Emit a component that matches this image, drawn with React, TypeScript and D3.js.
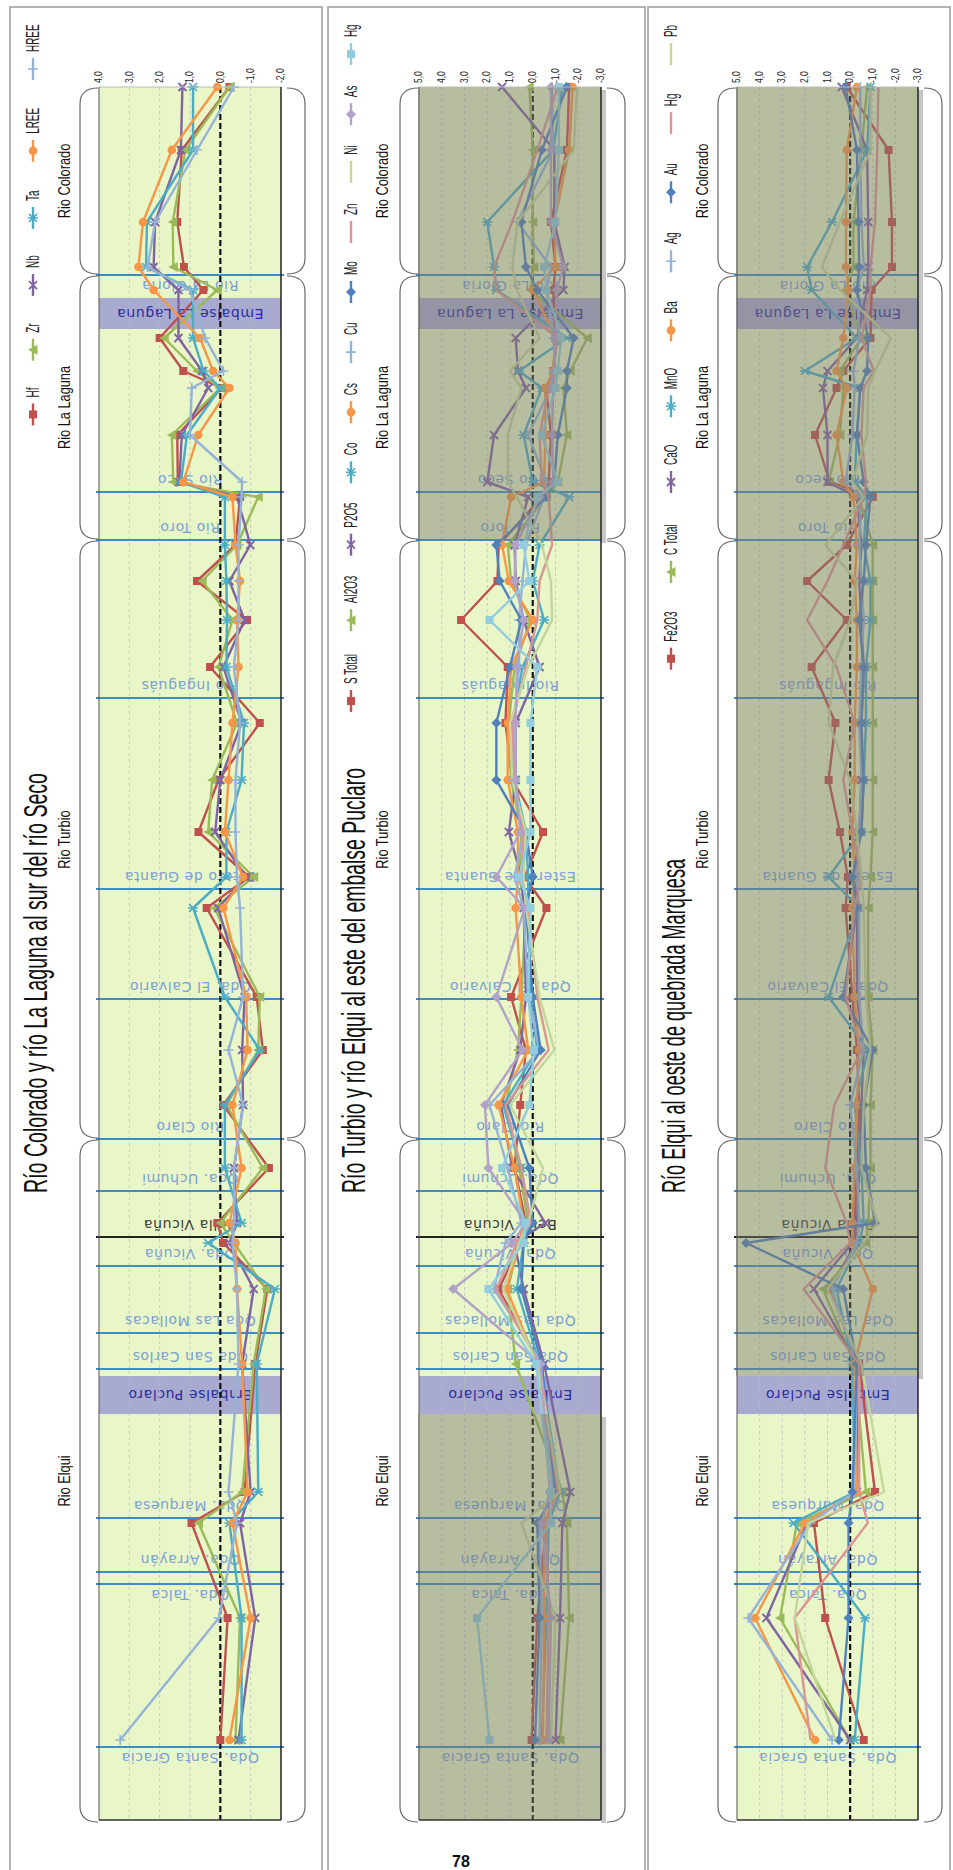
import React from 'react';
import * as d3 from 'd3';

// ---------------- data ----------------
// sampling stations along the river profile (arbitrary distance units, upstream -> downstream)
const stationKm = [0, 6.3, 13.5, 18.0, 20.3, 25.1, 28.4, 30.1, 34.8, 39.5, 41.0, 45.8, 49.4, 53.3, 58.0, 63.6, 69.3, 74.5, 79.0, 82.1, 91.0, 96.3, 101.8, 108.1, 113.6, 115.6, 120.2, 127.7, 140.5, 143.6, 153.1, 165.3];
const axisKm = [0, 173.3];

const siteNames = ['Rio La Gloria', 'Rio Seco', 'Rio Toro', 'Rio Ingaguás', 'Estero de Guanta', 'Qda. El Calvario', 'Rio Claro', 'Qda. Uchumi', 'Bella Vicuña', 'Qda. Vicuña', 'Qda Las Mollacas', 'Qda San Carlos', 'Qda. Marquesa', 'Qda. Arrayán', 'Qda. Talca', 'Qda. Santa Gracia'];
const siteKm = [18.8, 40.5, 45.3, 61.1, 80.2, 91.2, 105.2, 110.4, 115.0, 117.9, 124.6, 128.2, 143.1, 148.5, 149.7, 166.0];
const siteLabelBelow = [true, false, false, false, false, false, false, false, false, false, false, false, false, false, true, true];
const confluenceSite = 'Bella Vicuña';

const reservoirNames = ['Embalse La Laguna', 'Embalse Puclaro'];
const reservoirFromKm = [21.1, 128.9];
const reservoirToKm = [24.2, 132.7];

const riverNames = ['Rio Colorado', 'Rio La Laguna', 'Rio Turbio', 'Rio Elqui'];
const riverFromKm = [0, 18.8, 45.3, 105.2];
const riverToKm = [18.8, 45.3, 105.2, 173.3];

const titles = [
  'Río Colorado y río La Laguna al sur del río Seco',
  'Río Turbio y río Elqui al este del embalse Puclaro',
  'Río Elqui al oeste de quebrada Marquesa',
];

const ticksPanel1 = [4, 3, 2, 1, 0, -1, -2];
const ticksPanel23 = [5, 4, 3, 2, 1, 0, -1, -2, -3];

const palette = ['#C0504D', '#9BBB59', '#8064A2', '#4BACC6', '#F79646', '#95B3D7', '#4F81BD', '#D99694', '#C3D69B', '#B3A2C7', '#93CDDD'];
type Kind = 'square' | 'triangle' | 'x' | 'star' | 'circle' | 'plus' | 'diamond' | 'none';
const markerKinds: Kind[] = ['square', 'triangle', 'x', 'star', 'circle', 'plus', 'diamond', 'none', 'none', 'diamond', 'square'];

// Panel 1
const panel1Names = ['Hf', 'Zr', 'Nb', 'Ta', 'LREE', 'HREE'];
const hfValues = [-0.3, 1.27, 1.42, 1.2, 0.56, 2.0, 1.22, -0.05, 1.42, 1.4, -0.65, -0.5, 0.77, -0.88, 0.34, -1.3, 0.06, 0.72, -0.95, 0.45, -1.2, -1.4, -0.1, -1.6, 0.1, -0.1, -1.55, -1.15, -0.8, 0.95, -0.24, 0.0];
const zrValues = [-0.3, 1.15, 1.57, 1.55, 0.1, 1.85, 0.77, 0.0, 1.6, 1.55, -1.25, -0.55, 0.6, -0.4, 0.06, -0.55, 0.27, 0.4, -1.1, 0.2, -1.3, -1.25, -0.2, -1.4, 0.0, -0.45, -1.5, -1.1, -0.72, 0.72, -0.65, -0.5];
const nbValues = [1.25, 1.3, 2.15, 2.2, 1.38, 1.38, 0.6, 0.4, 1.27, 1.35, -0.55, -0.99, -0.3, -0.8, -0.1, -0.7, 0.0, 0.17, -0.85, 0.07, -0.8, -0.72, -0.75, -0.45, -0.55, -0.3, -1.1, -0.72, -1.0, -0.65, -1.15, -0.6];
const taValues = [0.9, 0.9, 2.42, 2.45, 0.9, 0.9, 0.55, 0.0, 1.1, 1.3, -0.15, -0.15, -0.2, -0.22, -0.2, -0.78, -0.7, -0.2, -0.2, 0.9, -0.15, -1.3, -0.15, -0.15, -0.7, 0.4, -1.8, -1.2, -1.25, -0.3, -0.7, -0.7];
const lreeValues = [0.1, 1.6, 2.55, 2.7, 2.2, 0.67, 0.24, -0.3, 0.73, 1.22, -0.4, -0.5, -0.65, -0.55, -0.6, -0.4, -0.27, -0.15, -0.75, -0.1, -0.85, -0.9, -0.4, -0.7, -0.3, -0.5, -0.55, -0.72, -0.9, -0.4, -1.0, -0.3];
const hreeValues = [-0.45, 0.77, 2.15, 2.4, 1.0, 0.5, -0.1, 0.94, 1.0, -0.72, -0.7, -0.6, -0.6, -0.6, -0.45, -0.65, -0.5, -0.5, -0.55, -0.65, -0.75, -0.27, -0.75, -0.45, -0.45, -0.4, -0.55, -0.6, -0.27, -0.55, 0.05, 3.3];

// Panel 2
const panel2Names = ['S Total', 'Al2O3', 'P2O5', 'Co', 'Cs', 'Cu', 'Mo', 'Zn', 'Ni', 'As', 'Hg'];
const sTotalValues = [-1.6, -1.5, -0.8, -1.0, -0.9, -1.0, -0.9, -0.6, -0.8, -0.7, -0.4, 1.5, 1.55, 3.15, 1.1, 1.2, 0.9, -0.45, 0.35, -0.6, 0.95, 0.3, 0.55, 0.8, 0.3, 0.5, 1.5, -0.3, -1.0, -0.6, -0.2, 0.05];
const al2o3Values = [0.15, 0.0, 0.0, -0.05, 0.1, -2.4, -1.65, -1.35, -1.5, -1.1, -0.6, 1.1, 0.95, 0.1, 0.8, 1.05, 0.95, 0.5, 0.6, 0.3, 0.5, 0.65, 1.2, 0.6, 0.2, 0.6, 1.1, 0.75, -1.3, -1.5, -1.6, -1.2];
const p2o5Values = [1.35, -0.95, -0.95, -1.4, -1.35, 0.75, 0.65, 0.3, 1.7, 2.0, 0.2, 0.8, 0.75, 0.4, -0.3, 0.75, 0.75, 1.05, 0.5, 0.4, 0.3, 0.55, 1.4, 0.9, -0.55, 0.8, 0.4, -0.5, -1.65, -1.3, -1.2, -1.0];
const coValues = [-1.3, -0.9, 2.0, 1.7, 1.6, -1.5, 0.6, -0.4, 0.4, 0.0, -1.6, -0.3, 0.0, -0.5, 0.45, 0.9, 0.8, 0.3, 0.2, 0.2, 0.1, -0.2, 1.3, 0.5, 0.1, 0.4, 0.7, -0.3, -1.2, -0.7, -0.6, -0.4];
const csValues = [-1.75, -1.6, -0.95, -1.0, 0.0, -1.0, -0.9, -0.55, -0.55, -0.5, 0.95, 1.35, 1.05, 0.0, 0.95, 1.1, 1.1, 0.65, 0.65, 0.75, 0.5, 0.2, 1.5, 0.8, 0.4, 0.6, 1.15, -0.2, -1.05, -0.5, -0.5, -0.45];
const cuValues = [-0.85, -0.9, 0.67, -0.8, -0.6, -0.9, -1.0, -0.8, 0.2, -0.6, -0.5, 0.3, 0.45, 0.6, 0.6, 0.8, 0.9, 0.4, 0.8, 0.4, 0.2, -0.3, 1.9, 1.1, 0.5, 1.2, 1.7, -0.4, -0.9, -0.3, -0.4, -0.3];
const moValues = [-1.5, -0.4, 0.5, 0.3, -0.2, -1.8, -1.5, -1.5, -1.1, -0.95, -0.6, 1.6, 1.45, 0.5, 1.0, 1.6, 1.6, 0.3, 0.0, 0.3, 0.0, -0.35, 1.1, 0.15, 0.0, 0.4, 0.5, -0.4, -1.0, -0.2, -0.3, -0.1];
const znValues = [-1.1, -0.2, 0.9, 1.7, 1.6, -1.1, -0.9, -0.7, -0.3, -0.4, -0.7, -0.85, -0.3, -0.2, 0.3, 0.9, 0.8, 0.4, 0.5, 0.2, -0.2, -0.7, 1.2, 0.5, 0.1, 0.7, 1.6, -0.3, -1.1, -0.6, -0.7, -0.6];
const niValues = [-1.95, -1.8, 0.67, 0.9, 0.7, -0.3, 1.0, 0.5, 1.1, 1.1, 0.7, -0.4, -0.8, -0.85, 0.2, 1.0, 0.9, 0.3, 0.4, 0.3, -0.3, -0.95, 1.0, -0.45, 0.2, 0.6, 1.3, -0.2, -1.2, 0.5, -1.0, -0.8];
const asValues = [-0.8, -0.8, -0.8, -1.35, -1.05, -1.0, -0.95, -0.9, -0.85, -0.9, -0.3, 0.75, 0.8, 0.4, 0.7, 0.75, 0.75, 0.55, 1.6, 0.35, 1.6, 0.45, 2.1, 1.95, 0.3, 0.9, 3.5, -0.35, -0.75, -0.4, -0.8, -0.7];
const hgPanel2Values = [-1.15, -1.15, -1.0, -0.5, -0.6, -1.25, -1.1, -1.0, -0.4, -1.1, -0.2, 0.4, 0.15, 1.9, -0.2, 0.1, 0.1, 0.1, 0.6, 0.1, 0.2, -0.05, 0.15, 1.35, 0.3, 0.4, 1.95, -0.15, -0.8, -0.8, 2.45, 1.9];

// Panel 3
const panel3Names = ['Fe2O3', 'C Total', 'CaO', 'MnO', 'Ba', 'Ag', 'Au', 'Hg', 'Pb'];
const fe2o3Values = [0.15, -1.7, -1.85, -1.85, -0.95, -0.9, 0.3, 0.6, 1.55, 0.9, -1.0, 0.15, 1.9, 0.15, 1.7, 0.65, 0.95, 0.45, 0.1, 0.2, -0.1, -0.3, -0.4, -0.3, -0.2, -0.3, 0.95, -0.4, -1.1, 1.6, 1.1, -0.6];
const cTotalValues = [-0.75, -0.5, -0.15, -0.15, 0.22, -0.5, 0.45, 0.3, 0.45, 0.95, -0.4, -1.0, -1.0, -1.0, -1.0, -1.0, -1.0, -1.0, -0.9, -0.8, -0.8, -1.0, -0.9, -0.9, -0.8, -0.7, 1.2, -0.2, -0.7, 2.35, 3.1, 0.0];
const caoValues = [0.37, -0.75, -0.8, -0.8, -0.75, -0.3, 1.0, 1.2, 1.0, 1.0, -0.3, -0.5, -0.4, -0.5, -0.6, -0.5, -0.5, -0.4, -0.2, -0.3, -0.3, -0.6, -0.5, -0.4, -0.3, -0.1, 1.6, -0.3, -0.3, 1.9, 3.7, 0.0];
const mnoValues = [-0.9, -0.75, 0.8, 1.9, 1.7, -0.3, 2.0, -0.45, -0.3, -0.2, -0.75, -0.6, -0.9, -0.9, -0.7, -0.7, -0.6, -0.5, 0.95, -0.4, 0.95, -0.8, -0.2, -0.5, -0.6, -0.4, 0.6, -0.1, -0.2, 2.5, -0.66, -0.2];
const baValues = [-0.3, 0.15, 0.18, 0.18, 0.07, 0.3, 0.6, 0.15, 0.6, 0.3, -0.15, -0.3, -0.2, -0.3, -0.3, -0.2, -0.2, -0.1, -0.2, -0.1, -0.2, -0.4, -0.3, -0.2, -0.1, -0.1, -1.0, -0.2, -0.3, 2.0, 4.2, 1.55];
const agValues = [-0.45, -0.45, -0.5, -0.6, -0.3, -0.4, -0.15, -0.2, -0.1, 0.2, -0.5, -0.4, -0.5, -0.6, -0.5, -0.4, -0.5, -0.4, -0.3, -0.4, -0.4, -0.6, 0.0, -0.3, -0.4, -0.3, 0.8, -0.3, -0.2, 1.75, 4.5, 0.8];
const auValues = [0.2, -0.3, -0.37, -0.4, -0.3, -0.8, -0.75, -0.45, -0.3, -0.6, -0.9, -0.7, -0.6, -0.4, -0.6, -0.5, -0.6, -0.5, -0.1, -0.3, 0.3, -1.0, -0.6, -0.7, -1.1, 4.6, 0.3, -0.3, -0.1, 0.07, 0.07, 0.5];
const hgPanel3Values = [-1.25, -1.2, -1.1, -0.9, -0.9, -0.5, -1.05, -0.6, -0.5, -0.7, -0.6, 0.3, 1.0, 1.9, 0.6, -0.2, 0.3, -0.1, -0.5, -0.2, 0.2, -0.5, 0.7, 1.1, 0.15, 0.0, 2.05, -0.4, -0.4, -0.78, 2.45, 1.75];
const pbValues = [-0.9, -0.9, 0.45, 1.25, 0.45, -1.8, -1.1, -0.8, -0.75, -0.1, -0.6, 1.1, -0.3, 0.0, 0.75, 0.95, 0.0, -0.3, -0.5, -0.6, -0.7, -0.9, -0.6, -0.5, -1.2, -0.6, 1.0, -0.5, -1.5, 1.85, 2.45, 0.65];

// ---------------- layout ----------------
const W = 953;
const H = 1870;
const yScale = d3.scaleLinear().domain(axisKm).range([87, 1820]);

type Series = { name: string; values: number[]; color: string; kind: Kind };
type PanelCfg = {
  left: number; right: number; plotL: number; plotR: number;
  domain: [number, number]; ticks: number[]; title: string; titleLen: number;
  series: Series[]; gray: [number, number][]; legendGap: number;
};

const mkSeries = (names: string[], vals: number[][]): Series[] =>
  names.map((n, i) => ({ name: n, values: vals[i], color: palette[i], kind: markerKinds[i] }));

const panels: PanelCfg[] = [
  {
    left: 10, right: 322, plotL: 99, plotR: 281, domain: [4, -2], ticks: ticksPanel1,
    title: titles[0], titleLen: 420,
    series: mkSeries(panel1Names, [hfValues, zrValues, nbValues, taValues, lreeValues, hreeValues]),
    gray: [], legendGap: 27,
  },
  {
    left: 328, right: 645, plotL: 419, plotR: 601, domain: [5, -3], ticks: ticksPanel23,
    title: titles[1], titleLen: 425,
    series: mkSeries(panel2Names, [sTotalValues, al2o3Values, p2o5Values, coValues, csValues, cuValues, moValues, znValues, niValues, asValues, hgPanel2Values]),
    gray: [[axisKm[0], riverToKm[1]], [reservoirToKm[1], axisKm[1]]], legendGap: 20,
  },
  {
    left: 648, right: 950, plotL: 737, plotR: 918, domain: [5, -3], ticks: ticksPanel23,
    title: titles[2], titleLen: 334,
    series: mkSeries(panel3Names, [fe2o3Values, cTotalValues, caoValues, mnoValues, baValues, agValues, auValues, hgPanel3Values, pbValues]),
    gray: [[axisKm[0], reservoirFromKm[1]]], legendGap: 29,
  },
];

const SANS = "'Liberation Sans', Arial, sans-serif";
const LABEL_FONT = "'DejaVu Sans', Verdana, sans-serif";

const charW = (c: string) => {
  if (/[ilIjtfr.,]/.test(c)) return 0.3;
  if (/[A-Z]/.test(c)) return 0.68;
  if (/[0-9]/.test(c)) return 0.556;
  if (c === ' ') return 0.28;
  return 0.54;
};
const textWidth = (s: string, size: number, k: number) =>
  Array.from(s).reduce((a, c) => a + charW(c), 0) * size * k;

function Marker({ kind, cx, cy, color }: { kind: Kind; cx: number; cy: number; color: string }) {
  const s = 4;
  switch (kind) {
    case 'square':
      return <rect x={cx - 4} y={cy - 4} width={8} height={8} fill={color} />;
    case 'triangle':
      return <path d={`M${cx - 5},${cy}L${cx + 4.5},${cy - 5}L${cx + 4.5},${cy + 5}Z`} fill={color} />;
    case 'x':
      return <path d={`M${cx - s},${cy - s}L${cx + s},${cy + s}M${cx - s},${cy + s}L${cx + s},${cy - s}`} stroke={color} strokeWidth={1.8} fill="none" />;
    case 'star':
      return <path d={`M${cx - s},${cy - s}L${cx + s},${cy + s}M${cx - s},${cy + s}L${cx + s},${cy - s}M${cx - 5},${cy}L${cx + 5},${cy}`} stroke={color} strokeWidth={1.6} fill="none" />;
    case 'circle':
      return <circle cx={cx} cy={cy} r={4.3} fill={color} />;
    case 'plus':
      return <path d={`M${cx - 5},${cy}L${cx + 5},${cy}M${cx},${cy - 5}L${cx},${cy + 5}`} stroke={color} strokeWidth={1.6} fill="none" />;
    case 'diamond':
      return <path d={`M${cx},${cy - 5}L${cx + 5},${cy}L${cx},${cy + 5}L${cx - 5},${cy}Z`} fill={color} />;
    default:
      return null;
  }
}

function Panel({ cfg }: { cfg: PanelCfg }) {
  const { left, right, plotL, plotR, domain, ticks, title, titleLen, series, gray, legendGap } = cfg;
  const x = d3.scaleLinear().domain(domain).range([plotL, plotR]);
  const top = yScale(axisKm[0]);
  const bottom = yScale(axisKm[1]);
  const cx = (plotL + plotR) / 2;
  const line = d3.line<number>().x((v) => x(v)).y((_, i) => yScale(stationKm[i]));

  // legend layout (top entry = last series)
  const legendX = left + 23;
  const LFS = 18;
  const LK = 0.55;
  let cursor = 25;
  const legendItems = series.slice().reverse().map((s) => {
    const tw = textWidth(s.name, LFS, LK);
    const textBottom = cursor + tw;
    const s0 = textBottom + 6;
    const s1 = s0 + 22;
    cursor = s1 + legendGap;
    return { s, textBottom, s0, s1 };
  });

  const braceL = (y0: number, y1: number) => {
    const inner = plotL - 1, outer = plotL - 19, r = 16;
    return `M${inner},${y0}Q${outer},${y0} ${outer},${y0 + r}L${outer},${y1 - r}Q${outer},${y1} ${inner},${y1}`;
  };
  const braceR = (y0: number, y1: number) => {
    const inner = plotR + 6, outer = plotR + 24, r = 16;
    return `M${inner},${y0}Q${outer},${y0} ${outer},${y0 + r}L${outer},${y1 - r}Q${outer},${y1} ${inner},${y1}`;
  };

  return (
    <g>
      {/* panel frame */}
      <rect x={left} y={7} width={right - left} height={H + 20} fill="none" stroke="#9a9a9a" strokeWidth={1.5} />

      {/* title */}
      <text
        transform={`translate(${left + 25},1193) rotate(-90)`}
        fontFamily={SANS}
        fontSize={34}
        dominantBaseline="central"
        textLength={titleLen}
        lengthAdjust="spacingAndGlyphs"
        fill="#111"
      >
        {title}
      </text>

      {/* legend */}
      {legendItems.map(({ s, textBottom, s0, s1 }) => (
        <g key={s.name}>
          <text
            transform={`translate(${legendX},${textBottom}) rotate(-90) scale(${LK},1)`}
            fontFamily={SANS}
            fontSize={LFS}
            dominantBaseline="central"
            fill="#222"
          >
            {s.name}
          </text>
          <line x1={legendX} x2={legendX} y1={s0} y2={s1} stroke={s.color} strokeWidth={2.4} />
          <Marker kind={s.kind} cx={legendX} cy={(s0 + s1) / 2} color={s.color} />
        </g>
      ))}

      {/* river braces and names */}
      {riverNames.map((r, i) => {
        const y0 = yScale(riverFromKm[i]) + 1;
        const y1 = yScale(riverToKm[i]) + (i === riverNames.length - 1 ? 2 : -1);
        return (
          <g key={r}>
            <path d={braceL(y0, y1)} fill="none" stroke="#6a6a6a" strokeWidth={1.2} />
            <path d={braceR(y0, y1)} fill="none" stroke="#6a6a6a" strokeWidth={1.2} />
            <text
              transform={`translate(${left + 54},${(y0 + y1) / 2}) rotate(-90) scale(0.8,1)`}
              fontFamily={SANS}
              fontSize={16}
              textAnchor="middle"
              dominantBaseline="central"
              fill="#111"
            >
              {r}
            </text>
          </g>
        );
      })}

      {/* value axis tick labels */}
      {ticks.map((t) => (
        <text
          key={t}
          transform={`translate(${x(t)},83) rotate(-90) scale(0.85,1)`}
          fontFamily={SANS}
          fontSize={10}
          dominantBaseline="central"
          fill="#222"
        >
          {t.toFixed(1).replace('.', ',')}
        </text>
      ))}

      {/* plot background */}
      <rect x={plotL} y={top} width={plotR - plotL} height={bottom - top} fill="#e8f6c8" />

      {/* reservoirs */}
      {reservoirNames.map((n, i) => (
        <g key={n}>
          <rect x={plotL} y={yScale(reservoirFromKm[i])} width={plotR - plotL} height={yScale(reservoirToKm[i]) - yScale(reservoirFromKm[i])} fill="#a8aad0" />
          <text
            transform={`rotate(180,${cx},${(yScale(reservoirFromKm[i]) + yScale(reservoirToKm[i])) / 2})`}
            x={cx}
            y={(yScale(reservoirFromKm[i]) + yScale(reservoirToKm[i])) / 2}
            fontFamily={LABEL_FONT}
            fontSize={14}
            letterSpacing={0.6}
            textAnchor="middle"
            dominantBaseline="central"
            fill="#2b2ba0"
          >
            {n}
          </text>
        </g>
      ))}

      {/* grid */}
      {ticks.filter((t) => t !== 0 && t !== domain[0] && t !== domain[1]).map((t) => (
        <line key={t} x1={x(t)} x2={x(t)} y1={top} y2={bottom} stroke="#bdbdbd" strokeWidth={0.8} strokeDasharray="3,3" />
      ))}

      {/* site separators and labels */}
      {siteNames.map((n, i) => {
        const y = yScale(siteKm[i]);
        const isConf = n === confluenceSite;
        const ly = y + (siteLabelBelow[i] ? 11 : -12);
        return (
          <g key={n}>
            <line x1={plotL - 3} x2={plotR + 3} y1={y} y2={y} stroke={isConf ? '#222' : '#3c8dc5'} strokeWidth={2} />
            <text
              transform={`rotate(180,${cx},${ly})`}
              x={cx}
              y={ly}
              fontFamily={LABEL_FONT}
              fontSize={14}
              letterSpacing={0.6}
              textAnchor="middle"
              dominantBaseline="central"
              fill={isConf ? '#3a3a3a' : '#7b9fd6'}
            >
              {n}
            </text>
          </g>
        );
      })}

      {/* zero line */}
      <line x1={x(0)} x2={x(0)} y1={top} y2={bottom} stroke="#111" strokeWidth={2.2} strokeDasharray="6,3" />

      {/* series */}
      {series.map((s) => (
        <g key={s.name}>
          <path d={line(s.values) || ''} fill="none" stroke={s.color} strokeWidth={2.4} strokeLinejoin="round" />
          {s.values.map((v, i) => (
            <Marker key={i} kind={s.kind} cx={x(v)} cy={yScale(stationKm[i])} color={s.color} />
          ))}
        </g>
      ))}

      {/* gray overlays */}
      {gray.map(([a, b], i) => (
        <g key={i}>
          <rect x={plotR} y={yScale(a) + 3} width={5} height={yScale(b) - yScale(a)} fill="#c6c6c6" />
          <rect x={plotL - 1} y={yScale(a)} width={plotR - plotL + 1} height={yScale(b) - yScale(a)} fill="rgba(125,122,111,0.45)" />
        </g>
      ))}

      {/* plot borders */}
      <line x1={plotL} x2={plotR} y1={top} y2={top} stroke="#bbbbbb" strokeWidth={1} />
      <line x1={plotL} x2={plotL} y1={top} y2={bottom} stroke="#555" strokeWidth={1} />
      <line x1={plotR} x2={plotR} y1={top} y2={bottom} stroke="#222" strokeWidth={1.5} />
      <line x1={plotL} x2={plotR} y1={bottom} y2={bottom} stroke="#333" strokeWidth={1.5} />
    </g>
  );
}

export default function App() {
  return (
    <svg width={W} height={H} viewBox={`0 0 ${W} ${H}`} style={{ position: 'absolute', left: 0, top: 0, background: '#fff', display: 'block' }}>
      <rect x={0} y={0} width={W} height={H} fill="#fff" />
      {panels.map((p, i) => (
        <Panel key={i} cfg={p} />
      ))}
      <text x={461} y={1867} fontFamily={SANS} fontSize={16} fontWeight="bold" textAnchor="middle" fill="#111">
        78
      </text>
    </svg>
  );
}
